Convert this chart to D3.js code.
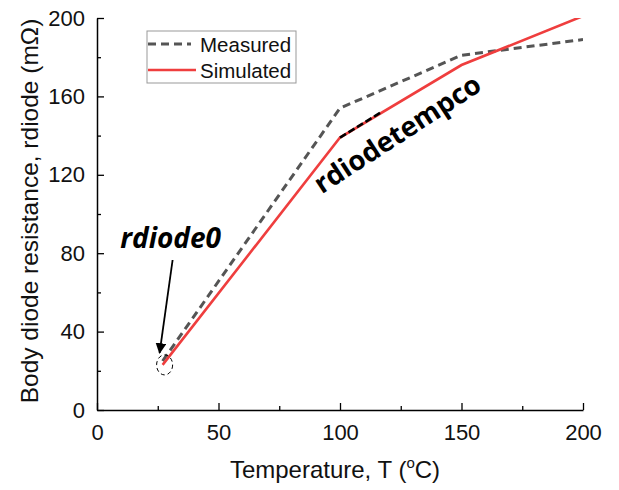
<!DOCTYPE html>
<html>
<head>
<meta charset="utf-8">
<script src="https://cdn.jsdelivr.net/npm/d3@7"></script>
<style>
  html, body { margin: 0; padding: 0; background: #fff; }
  svg { display: block; font-family: "Liberation Sans", Arial, sans-serif; }
</style>
</head>
<body>
<div id="chart"></div>
<script>
// Body diode resistance versus temperature
const temperature = [27, 100, 150, 200];
const measured = [25, 154, 181, 189];
const simulated = [23, 139, 176, 201];
// Slope annotation (tangent at the 100 °C knee)
const tempcoT = [100, 117];
const tempcoR = [139, 152];
const xTicks = [0, 50, 100, 150, 200];
const yTicks = [0, 40, 80, 120, 160, 200];
const xMinor = [25, 75, 125, 175];
const yMinor = [20, 60, 100, 140, 180];

const W = 619, H = 490;
const m = { left: 97, right: 36, top: 18, bottom: 80 };
const iw = W - m.left - m.right, ih = H - m.top - m.bottom;

const svg = d3.select("#chart").append("svg").attr("width", W).attr("height", H);
const g = svg.append("g").attr("transform", `translate(${m.left},${m.top})`);

const x = d3.scaleLinear().domain([0, 200]).range([0, iw]);
const y = d3.scaleLinear().domain([0, 200]).range([ih, 0]);

svg.append("defs").append("clipPath").attr("id", "plot")
  .append("rect").attr("x", 0).attr("y", 0).attr("width", iw).attr("height", ih);

// Axes with inward ticks
g.append("g").attr("transform", `translate(0,${ih})`)
  .call(d3.axisBottom(x).tickValues(xTicks).tickSize(-7).tickPadding(14).tickSizeOuter(0));
g.append("g").attr("transform", `translate(0,${ih})`)
  .call(d3.axisBottom(x).tickValues(xMinor).tickSize(-4).tickFormat("").tickSizeOuter(0))
  .select(".domain").remove();
g.append("g")
  .call(d3.axisLeft(y).tickValues(yTicks).tickSize(-7).tickPadding(12).tickSizeOuter(0));
g.append("g")
  .call(d3.axisLeft(y).tickValues(yMinor).tickSize(-4).tickFormat("").tickSizeOuter(0))
  .select(".domain").remove();

g.selectAll(".domain").attr("stroke", "#000").attr("stroke-width", 1.5);
g.selectAll(".tick line").attr("stroke", "#000").attr("stroke-width", 1.3);
g.selectAll(".tick text").attr("font-size", 22).attr("fill", "#111")
  .attr("font-family", "'Liberation Sans', Arial, sans-serif");

// Axis titles
const xt = svg.append("text")
  .attr("x", m.left + iw / 2 - 5).attr("y", 478)
  .attr("text-anchor", "middle").attr("font-size", 24).attr("fill", "#111");
xt.append("tspan").text("Temperature, T (");
xt.append("tspan").attr("font-size", 15).attr("dy", -10).text("o");
xt.append("tspan").attr("dy", 10).text("C)");

svg.append("text")
  .attr("transform", `translate(38,${m.top + ih / 2 - 3}) rotate(-90)`)
  .attr("text-anchor", "middle").attr("font-size", 24.5).attr("fill", "#111")
  .text("Body diode resistance, rdiode (mΩ)");

// Series
const line = d3.line().x((d, i) => x(temperature[i])).y(d => y(d));
const plot = g.append("g").attr("clip-path", "url(#plot)");
plot.append("path").datum(measured).attr("d", line)
  .attr("fill", "none").attr("stroke", "#555").attr("stroke-width", 3)
  .attr("stroke-dasharray", "8,5");
plot.append("path").datum(simulated).attr("d", line)
  .attr("fill", "none").attr("stroke", "#ef3e3e").attr("stroke-width", 2.6);

// Tangent marker for rdiodetempco
g.append("line")
  .attr("x1", x(tempcoT[0])).attr("y1", y(tempcoR[0]))
  .attr("x2", x(tempcoT[1])).attr("y2", y(tempcoR[1]))
  .attr("stroke", "#000").attr("stroke-width", 2.6).attr("stroke-dasharray", "7,3");

g.append("text")
  .attr("transform", `translate(${x(92.5)},${y(110)}) rotate(-33)`)
  .attr("font-family", "'Open Sans', 'Noto Sans', sans-serif")
  .attr("font-weight", "bold").attr("font-size", 27.5).attr("fill", "#000")
  .text("rdiodetempco");

// rdiode0 annotation: dashed circle on the first point and arrow
const cx = x(temperature[0]) + 2, cy = y(simulated[0]);
g.append("ellipse").attr("cx", cx).attr("cy", cy).attr("rx", 8).attr("ry", 10)
  .attr("fill", "none").attr("stroke", "#000").attr("stroke-width", 1)
  .attr("stroke-dasharray", "4,3");
svg.append("defs").append("marker").attr("id", "arrow")
  .attr("viewBox", "0 0 10 10").attr("refX", 9).attr("refY", 5)
  .attr("markerWidth", 6).attr("markerHeight", 6).attr("orient", "auto")
  .append("path").attr("d", "M0,0 L10,5 L0,10 z").attr("fill", "#000");
g.append("line")
  .attr("x1", cx + 8).attr("y1", 260 - m.top)
  .attr("x2", cx - 5).attr("y2", cy - 12)
  .attr("stroke", "#000").attr("stroke-width", 1.8).attr("marker-end", "url(#arrow)");
g.append("text")
  .attr("x", cx + 6).attr("y", 248 - m.top)
  .attr("text-anchor", "middle")
  .attr("font-family", "'Open Sans', 'Noto Sans', sans-serif")
  .attr("font-weight", "bold").attr("font-style", "italic")
  .attr("font-size", 28).attr("fill", "#000")
  .text("rdiode0");

// Legend
const lg = svg.append("g").attr("transform", "translate(147,31)");
lg.append("rect").attr("width", 149).attr("height", 52)
  .attr("fill", "#fff").attr("stroke", "#999").attr("stroke-width", 1);
lg.append("line").attr("x1", 1).attr("x2", 44).attr("y1", 13).attr("y2", 13)
  .attr("stroke", "#555").attr("stroke-width", 3).attr("stroke-dasharray", "8,5");
lg.append("line").attr("x1", 1).attr("x2", 49).attr("y1", 39).attr("y2", 39)
  .attr("stroke", "#ef3e3e").attr("stroke-width", 2.6);
lg.append("text").attr("x", 53).attr("y", 21).attr("font-size", 20.5).attr("fill", "#111").text("Measured");
lg.append("text").attr("x", 53).attr("y", 47).attr("font-size", 20.5).attr("fill", "#111").text("Simulated");
</script>
</body>
</html>
